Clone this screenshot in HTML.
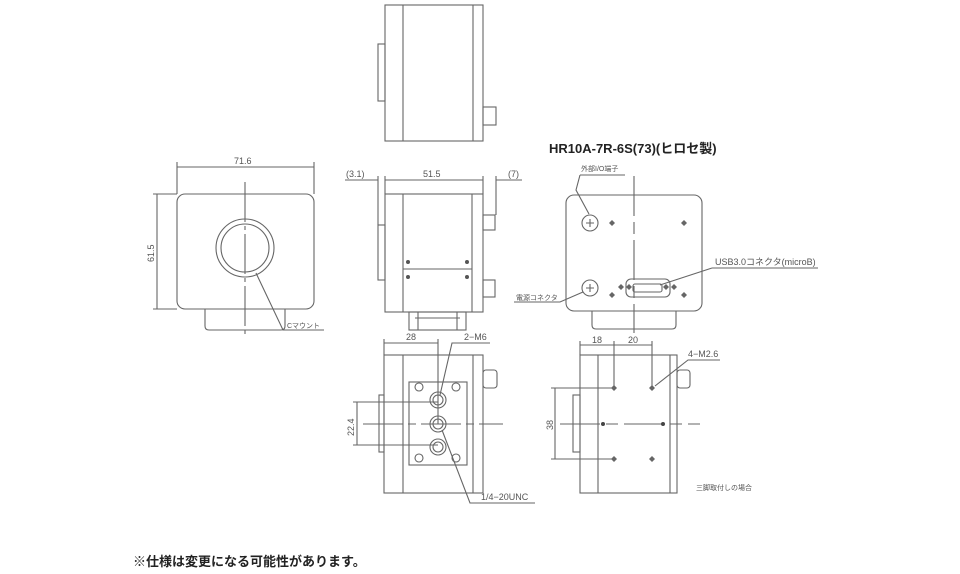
<!DOCTYPE html>
<html><head><meta charset="utf-8"><style>
html,body{margin:0;padding:0;background:#fff;}
svg{display:block;}
text{font-family:"Liberation Sans","Noto Sans CJK JP",sans-serif;fill:#555;}
</style></head><body>
<svg width="960" height="574" viewBox="0 0 960 574" xmlns="http://www.w3.org/2000/svg">
<defs>
<g id="dia"><path d="M0,-3 L3,0 L0,3 L-3,0Z" fill="#666"/></g>
</defs>
<g fill="none" stroke="#666" stroke-width="1.1">
<!-- top view -->
<rect x="385" y="5" width="98" height="136"/>
<line x1="403" y1="5" x2="403" y2="141"/><line x1="473" y1="5" x2="473" y2="141"/>
<rect x="378" y="44" width="7" height="57"/>
<rect x="483" y="107" width="13" height="18"/>

<!-- front view -->
<rect x="177" y="194" width="137" height="115" rx="8"/>
<path d="M205,309 V326 Q205,330 209,330 H281 Q285,330 285,326 V309"/>
<circle cx="245" cy="248" r="29"/><circle cx="245" cy="248" r="24"/>
<line x1="245" y1="182" x2="245" y2="335" stroke-dasharray="40,4,4,4"/>
<line x1="177" y1="167" x2="314" y2="167"/>
<line x1="177" y1="162" x2="177" y2="194"/><line x1="314" y1="162" x2="314" y2="194"/>
<line x1="157" y1="194" x2="157" y2="309"/>
<line x1="153" y1="194" x2="177" y2="194"/><line x1="153" y1="309" x2="177" y2="309"/>
<polyline points="256,273 283,330 324,330"/>

<!-- side view -->
<rect x="385" y="194" width="98" height="118"/>
<line x1="403" y1="194" x2="403" y2="312"/><line x1="472" y1="194" x2="472" y2="312"/>
<line x1="403" y1="269" x2="472" y2="269"/>
<rect x="378" y="225" width="7" height="55"/>
<rect x="483" y="215" width="12" height="15"/><rect x="483" y="280" width="12" height="17"/>
<rect x="409" y="312" width="57" height="18"/>
<line x1="415" y1="318" x2="460" y2="318"/>
<line x1="418" y1="312" x2="418" y2="330"/><line x1="457" y1="312" x2="457" y2="330"/>
<line x1="345" y1="180" x2="378" y2="180"/><line x1="385" y1="180" x2="483" y2="180"/><line x1="496" y1="180" x2="522" y2="180"/>
<line x1="378" y1="176" x2="378" y2="225"/><line x1="385" y1="176" x2="385" y2="194"/>
<line x1="483" y1="176" x2="483" y2="194"/><line x1="496" y1="176" x2="496" y2="215"/>

<!-- back view -->
<rect x="566" y="195" width="136" height="116" rx="8"/>
<path d="M592,311 V325 Q592,329 596,329 H672 Q676,329 676,325 V311"/>
<line x1="634" y1="176" x2="634" y2="333" stroke-dasharray="40,6,12,6"/>
<circle cx="590" cy="223" r="8"/><circle cx="590" cy="288" r="8"/>
<path d="M586,223h8M590,219v8M586,288h8M590,284v8"/>
<rect x="626" y="279" width="44" height="18" rx="5"/>
<rect x="633" y="284" width="29" height="8" rx="2"/>
<polyline points="580,175 625,175"/>
<polyline points="580,175 576,190 589,214"/>
<polyline points="712,268 818,268"/>
<polyline points="712,268 660,285"/>
<polyline points="514,302 560,302 583,292"/>

<!-- bottom left view -->
<rect x="384" y="355" width="99" height="138"/>
<line x1="403" y1="355" x2="403" y2="493"/><line x1="473" y1="355" x2="473" y2="493"/>
<rect x="409" y="382" width="58" height="83"/>
<rect x="379" y="395" width="5" height="57"/>
<rect x="483" y="370" width="14" height="18" rx="3"/>
<circle cx="438" cy="400" r="8"/><circle cx="438" cy="400" r="5"/>
<circle cx="438" cy="424" r="8"/><circle cx="438" cy="424" r="5"/>
<circle cx="438" cy="447" r="8"/><circle cx="438" cy="447" r="5"/>
<circle cx="419" cy="387" r="4"/><circle cx="456" cy="387" r="4"/>
<circle cx="419" cy="458" r="4"/><circle cx="456" cy="458" r="4"/>
<line x1="363" y1="424" x2="503" y2="424" stroke-dasharray="40,5,8,5"/>
<line x1="384" y1="343" x2="438" y2="343"/>
<line x1="384" y1="339" x2="384" y2="355"/><line x1="438" y1="339" x2="438" y2="424"/>
<line x1="357" y1="402" x2="357" y2="445"/>
<line x1="353" y1="402" x2="438" y2="402"/><line x1="353" y1="445" x2="438" y2="445"/>
<polyline points="490,343 452,343 440,395"/>
<polyline points="535,503 470,503 442,430"/>

<!-- bottom right view -->
<rect x="580" y="355" width="97" height="138"/>
<line x1="598" y1="355" x2="598" y2="493"/><line x1="670" y1="355" x2="670" y2="493"/>
<rect x="573" y="395" width="7" height="57"/>
<rect x="677" y="370" width="13" height="18" rx="3"/>
<line x1="560" y1="424" x2="700" y2="424" stroke-dasharray="40,6,12,6"/>
<line x1="580" y1="345" x2="652" y2="345"/>
<line x1="580" y1="341" x2="580" y2="355"/><line x1="614" y1="341" x2="614" y2="388"/><line x1="652" y1="341" x2="652" y2="388"/>
<line x1="555" y1="388" x2="555" y2="459"/>
<line x1="551" y1="388" x2="614" y2="388"/><line x1="551" y1="459" x2="614" y2="459"/>
<polyline points="720,360 688,360 655,386"/>
</g>
<g>
<use href="#dia" x="612" y="223"/><use href="#dia" x="684" y="223"/>
<use href="#dia" x="612" y="295"/><use href="#dia" x="684" y="295"/>
<use href="#dia" x="621" y="287"/><use href="#dia" x="629" y="287"/>
<use href="#dia" x="666" y="287"/><use href="#dia" x="674" y="287"/>
<circle cx="408" cy="262" r="2" fill="#555"/><circle cx="467" cy="262" r="2" fill="#555"/>
<circle cx="408" cy="277" r="2" fill="#555"/><circle cx="467" cy="277" r="2" fill="#555"/>
<use href="#dia" x="614" y="388"/><use href="#dia" x="652" y="388"/>
<use href="#dia" x="614" y="459"/><use href="#dia" x="652" y="459"/>
<circle cx="603" cy="424" r="2" fill="#444"/><circle cx="663" cy="424" r="2" fill="#444"/>
</g>
<g font-size="9">
<text x="234" y="164">71.6</text>
<text x="0" y="0" transform="translate(154,262) rotate(-90)">61.5</text>
<text x="287" y="328" font-size="7">Cマウント</text>
<text x="346" y="177">(3.1)</text>
<text x="423" y="177">51.5</text>
<text x="508" y="177">(7)</text>
<text x="406" y="340">28</text>
<text x="464" y="340">2−M6</text>
<text x="0" y="0" transform="translate(354,436) rotate(-90)">22.4</text>
<text x="481" y="500">1/4−20UNC</text>
<text x="592" y="343">18</text>
<text x="628" y="343">20</text>
<text x="688" y="357">4−M2.6</text>
<text x="0" y="0" transform="translate(553,430) rotate(-90)">38</text>
<text x="696" y="490" font-size="7">三脚取付しの場合</text>
<text x="715" y="265">USB3.0コネクタ(microB)</text>
<text x="581" y="171" font-size="7">外部I/O端子</text>
<text x="516" y="300" font-size="7">電源コネクタ</text>
</g>
<text x="549" y="153" font-size="13" font-weight="600" style="fill:#222">HR10A-7R-6S(73)(ヒロセ製)</text>
<text x="133" y="566" font-size="13" font-weight="bold" style="fill:#222">※仕様は変更になる可能性があります。</text>
</svg>
</body></html>
